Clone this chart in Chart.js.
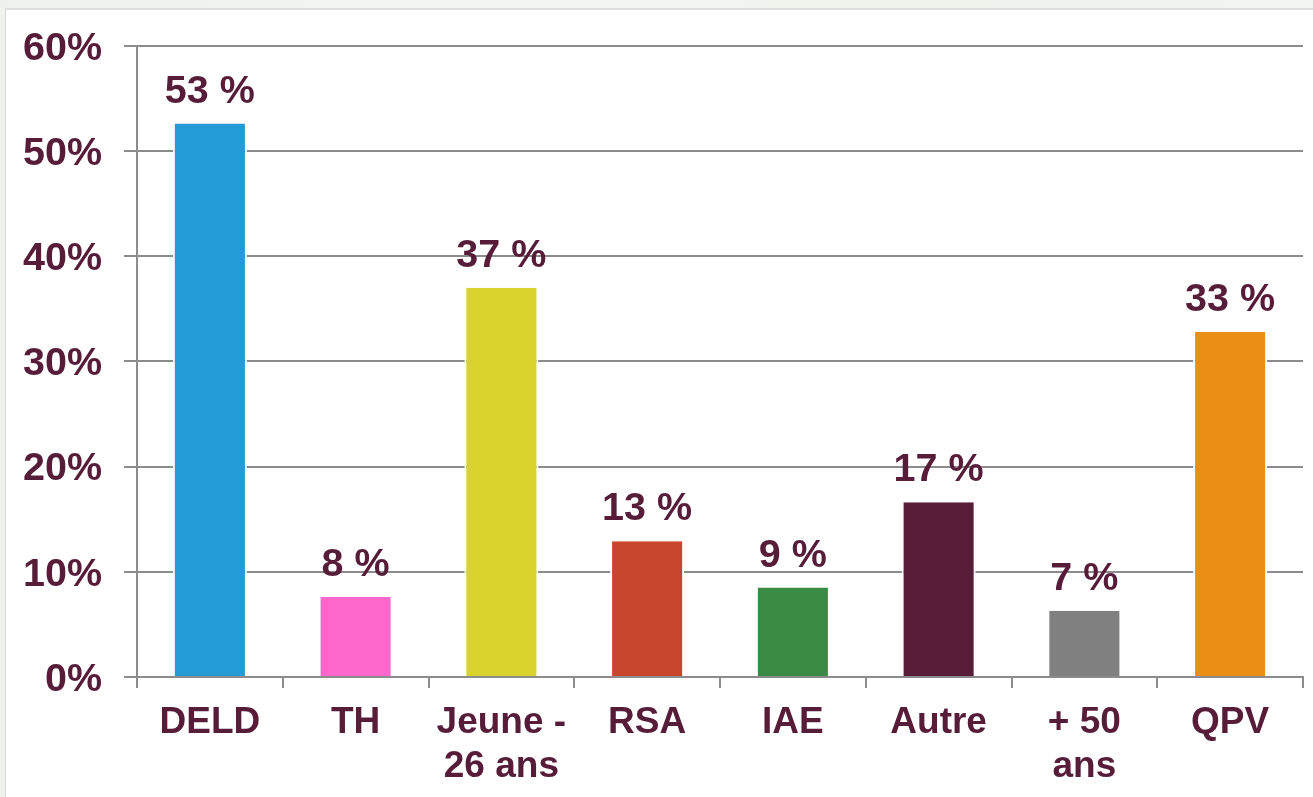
<!DOCTYPE html>
<html>
<head>
<meta charset="utf-8">
<script src="https://cdn.jsdelivr.net/npm/chart.js@4.4.1/dist/chart.umd.min.js"></script>
<style>
  html, body { margin:0; padding:0; width:1313px; height:797px; overflow:hidden;
    background: linear-gradient(90deg, #eef1ec 0%, #f3f6f0 40%, #eef3ec 70%, #f1f4ef 100%); }
  #frame { position:absolute; left:5px; top:8px; right:0; bottom:0; background:#fff;
    border-left:1px solid #d6d8d6; border-top:2px solid #dcdedc; }
  #c { position:absolute; left:0; top:0; }
</style>
</head>
<body>
<div id="frame"></div>
<canvas id="c" width="1313" height="797"></canvas>
<script>
const categories = ['DELD', 'TH', ['Jeune -', '26 ans'], 'RSA', 'IAE', 'Autre', ['+ 50', 'ans'], 'QPV'];
const values = [52.6, 7.6, 37.0, 12.9, 8.5, 16.6, 6.3, 32.8];
const valueLabels = ['53 %', '8 %', '37 %', '13 %', '9 %', '17 %', '7 %', '33 %'];
const barColors = ['#259bd6', '#ff66cc', '#d9d32e', '#c9452e', '#3a8c44', '#561c38', '#808080', '#eb8e15'];
const yTicks = [0, 10, 20, 30, 40, 50, 60];

const TEXT = '#561c38';
const FONT = '"Liberation Sans", Arial, sans-serif';

const valueLabelPlugin = {
  id: 'valueLabels',
  afterDatasetsDraw(chart) {
    const ctx = chart.ctx;
    const meta = chart.getDatasetMeta(0);
    ctx.save();
    ctx.font = 'bold 39.5px ' + FONT;
    ctx.fillStyle = TEXT;
    ctx.textAlign = 'center';
    ctx.textBaseline = 'alphabetic';
    meta.data.forEach((el, i) => {
      ctx.fillText(valueLabels[i], el.x, el.y - 21);
    });
    ctx.restore();
  }
};

new Chart(document.getElementById('c'), {
  type: 'bar',
  data: {
    labels: categories,
    datasets: [{
      data: values,
      backgroundColor: barColors,
      borderColor: '#ffffff',
      borderWidth: { top: 0, left: 2, right: 2, bottom: 0 },
      borderSkipped: false,
      barPercentage: 0.508,
      categoryPercentage: 1.0
    }]
  },
  options: {
    responsive: false,
    devicePixelRatio: 1,
    animation: false,
    layout: { padding: { top: 45, right: 10, left: 0, bottom: 0 } },
    plugins: { legend: { display: false }, tooltip: { enabled: false } },
    scales: {
      x: {
        afterFit(scale) { scale.height = 120; },
        grid: { offset: true, drawOnChartArea: false, drawTicks: true, tickLength: 11, color: '#8c8c8c', lineWidth: 2 },
        border: { display: true, color: '#8c8c8c', width: 2 },
        ticks: { color: TEXT, font: { family: FONT, size: 37, weight: 'bold', lineHeight: 1.18 }, padding: 13, maxRotation: 0, autoSkip: false }
      },
      y: {
        min: 0, max: 60,
        afterFit(scale) { scale.width = 137; },
        afterBuildTicks(scale) { scale.ticks = yTicks.map(v => ({ value: v })); },
        grid: { color: '#8c8c8c', lineWidth: 2, tickLength: 13 },
        border: { display: true, color: '#8c8c8c', width: 2 },
        ticks: { color: TEXT, font: { family: FONT, size: 39.5, weight: 'bold' }, padding: 22, labelOffset: 3, callback: v => v + '%' }
      }
    }
  },
  plugins: [valueLabelPlugin]
});
</script>
</body>
</html>
